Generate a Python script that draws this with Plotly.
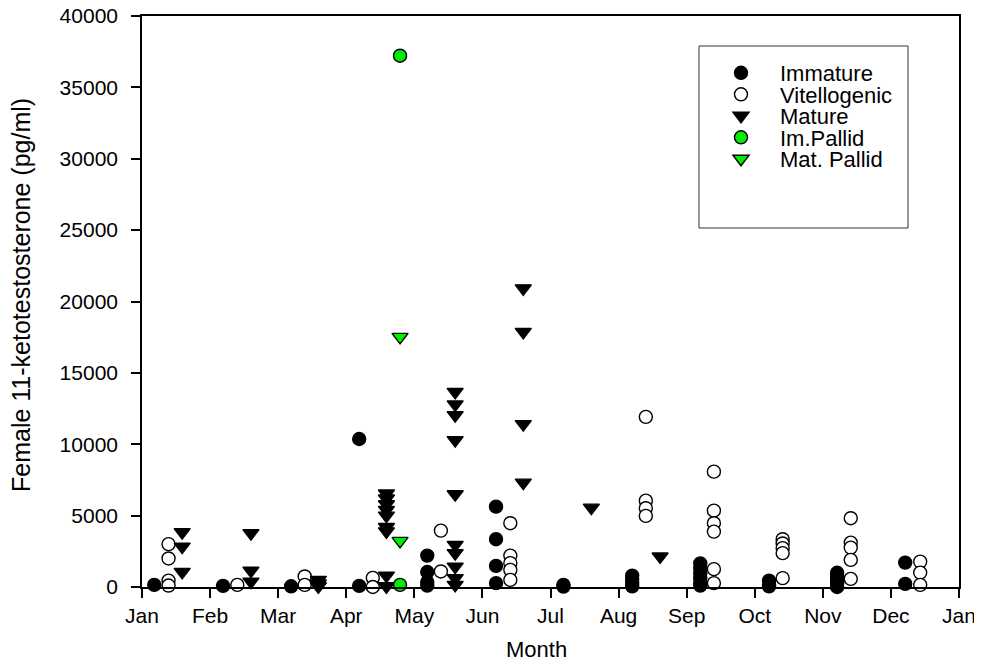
import plotly.graph_objects as go

# ---------------- data (x in months since Jan 1, y in pg/ml) ----------------
month_ticks = list(range(13))
month_labels = ["Jan", "Feb", "Mar", "Apr", "May", "Jun", "Jul",
                "Aug", "Sep", "Oct", "Nov", "Dec", "Jan"]
y_ticks = list(range(0, 40001, 5000))

immature_x = [0.18, 1.19, 2.19, 3.19, 3.19,
              4.19, 4.19, 4.19, 4.19,
              5.20, 5.20, 5.20, 5.20,
              6.19, 6.19,
              7.20, 7.20, 7.20, 7.20,
              8.20, 8.20, 8.20, 8.20, 8.20, 8.20,
              9.21, 9.21, 9.21,
              10.21, 10.21, 10.21, 10.21, 10.21,
              11.21, 11.21]
immature_y = [150, 80, 50, 10370, 80,
              2200, 1050, 350, 100,
              5630, 3350, 1480, 270,
              150, 30,
              800, 550, 300, 50,
              1650, 1300, 950, 600, 300, 100,
              450, 150, 50,
              1000, 750, 500, 250, 0,
              1710, 220]

vitello_x = [0.39, 0.39, 0.39, 0.39,
             1.40,
             2.39, 2.39,
             3.39, 3.39,
             4.39, 4.39,
             5.41, 5.41, 5.41, 5.41, 5.41,
             7.40, 7.40, 7.40, 7.40,
             8.40, 8.40, 8.40, 8.40, 8.40, 8.40,
             9.41, 9.41, 9.41, 9.41, 9.41,
             10.41, 10.41, 10.41, 10.41, 10.41,
             11.43, 11.43, 11.43]
vitello_y = [3000, 2000, 450, 100,
             150,
             740, 150,
             640, 0,
             3950, 1090,
             4470, 2200, 1670, 1200, 500,
             11920, 6050, 5520, 4980,
             8080, 5350, 4470, 3880, 1250, 270,
             3350, 3050, 2720, 2370, 620,
             4820, 3110, 2760, 1900, 570,
             1780, 1010, 150]

mature_x = [0.59, 0.59, 0.59,
            1.60, 1.60, 1.60,
            2.59, 2.59, 2.59,
            3.59, 3.59, 3.59, 3.59, 3.59, 3.59, 3.59, 3.59, 3.59,
            4.60, 4.60, 4.60, 4.60, 4.60, 4.60, 4.60, 4.60, 4.60, 4.60,
            5.60, 5.60, 5.60, 5.60,
            6.60,
            7.61]
mature_y = [3840, 2830, 1060,
            3770, 1150, 380,
            500, 250, 50,
            6550, 6200, 5800, 5400, 5000, 4200, 3900, 800, 50,
            13670, 12790, 12040, 10290, 6500, 2950, 2370, 1430, 620, 150,
            20920, 17870, 11410, 7310,
            5560,
            2140]

im_pallid_x = [3.79, 3.79]
im_pallid_y = [37220, 150]

mat_pallid_x = [3.79, 3.79]
mat_pallid_y = [17520, 3230]

# ---------------- figure ----------------
# The page body adds an 8 px offset, so the figure is 8 px smaller and the
# margins are reduced accordingly (target plot area: x 142..959, y 16..587).
OFF = 8
W, H = 982 - OFF, 662 - OFF
L, R, T, B = 142 - OFF, 23, 16 - OFF, 75
PW, PH = W - L - R, H - T - B
X0, Y1 = 142, 587  # screen coords of plot-area left / bottom


def px_x(p):
    return (p - X0) / PW


def px_y(p):
    return (Y1 - p) / PH


FONT = "Liberation Sans, Arial, sans-serif"
GREEN = "#00ee00"

fig = go.Figure()

series = [
    ("Immature", immature_x, immature_y, "circle", "black", 13, "legend"),
    ("Vitellogenic", vitello_x, vitello_y, "circle", "white", 13, "legend2"),
    ("Mature", mature_x, mature_y, "triangle-down", "black", 14, "legend3"),
    ("Im.Pallid", im_pallid_x, im_pallid_y, "circle", GREEN, 13, "legend4"),
    ("Mat. Pallid", mat_pallid_x, mat_pallid_y, "triangle-down", GREEN, 14, "legend5"),
]

for name, xs, ys, sym, col, sz, lg in series:
    fig.add_trace(go.Scatter(
        x=xs, y=ys, mode="markers", name=name, legend=lg,
        cliponaxis=False,
        marker=dict(symbol=sym, size=sz, color=col,
                    line=dict(color="black", width=1.4)),
    ))

legend_rows = [73, 94.5, 116, 137.5, 159]
legend_common = dict(
    x=px_x(702), xanchor="left", yanchor="middle",
    bgcolor="rgba(0,0,0,0)", borderwidth=0,
    font=dict(family=FONT, size=22, color="black"),
    itemwidth=68, itemclick=False, itemdoubleclick=False,
)
legend_layout = {}
for i, key in enumerate(["legend", "legend2", "legend3", "legend4", "legend5"]):
    legend_layout[key] = dict(legend_common, y=px_y(legend_rows[i]))

fig.update_layout(
    width=W, height=H,
    margin=dict(l=L, r=R, t=T, b=B, pad=0, autoexpand=False),
    paper_bgcolor="white", plot_bgcolor="white",
    font=dict(family=FONT, size=21, color="black"),
    showlegend=True,
    xaxis=dict(
        range=[0, 12], tickmode="array", tickvals=month_ticks, ticktext=month_labels,
        showgrid=False, zeroline=False, automargin=False,
        showline=True, linecolor="black", linewidth=1.6, mirror=True,
        ticks="outside", ticklen=9, tickwidth=1.5, tickcolor="black",
        tickfont=dict(family=FONT, size=21, color="black"),
        ticklabeloverflow="allow",
    ),
    yaxis=dict(
        range=[0, 40000], tickmode="array", tickvals=y_ticks,
        tickformat="d", automargin=False,
        showgrid=False, zeroline=False,
        showline=True, linecolor="black", linewidth=1.6, mirror=True,
        ticks="outside", ticklen=9, tickwidth=1.5, tickcolor="black",
        tickfont=dict(family=FONT, size=21, color="black"),
        ticklabelstandoff=9,
        ticklabeloverflow="allow",
    ),
    shapes=[dict(type="rect", xref="paper", yref="paper",
                 x0=px_x(699), x1=px_x(908), y0=px_y(228), y1=px_y(46),
                 line=dict(color="#333333", width=1), fillcolor="rgba(0,0,0,0)")],
    annotations=[
        dict(text="Female 11-ketotestosterone (pg/ml)", textangle=-90,
             xref="paper", yref="paper", x=px_x(21), y=px_y(295),
             xanchor="center", yanchor="middle", showarrow=False,
             font=dict(family=FONT, size=25, color="black")),
        dict(text="Month", xref="paper", yref="paper",
             x=px_x(536), y=px_y(649), xanchor="center", yanchor="middle",
             showarrow=False, font=dict(family=FONT, size=22, color="black")),
    ],
    **legend_layout,
)

fig.write_html("out.html")
